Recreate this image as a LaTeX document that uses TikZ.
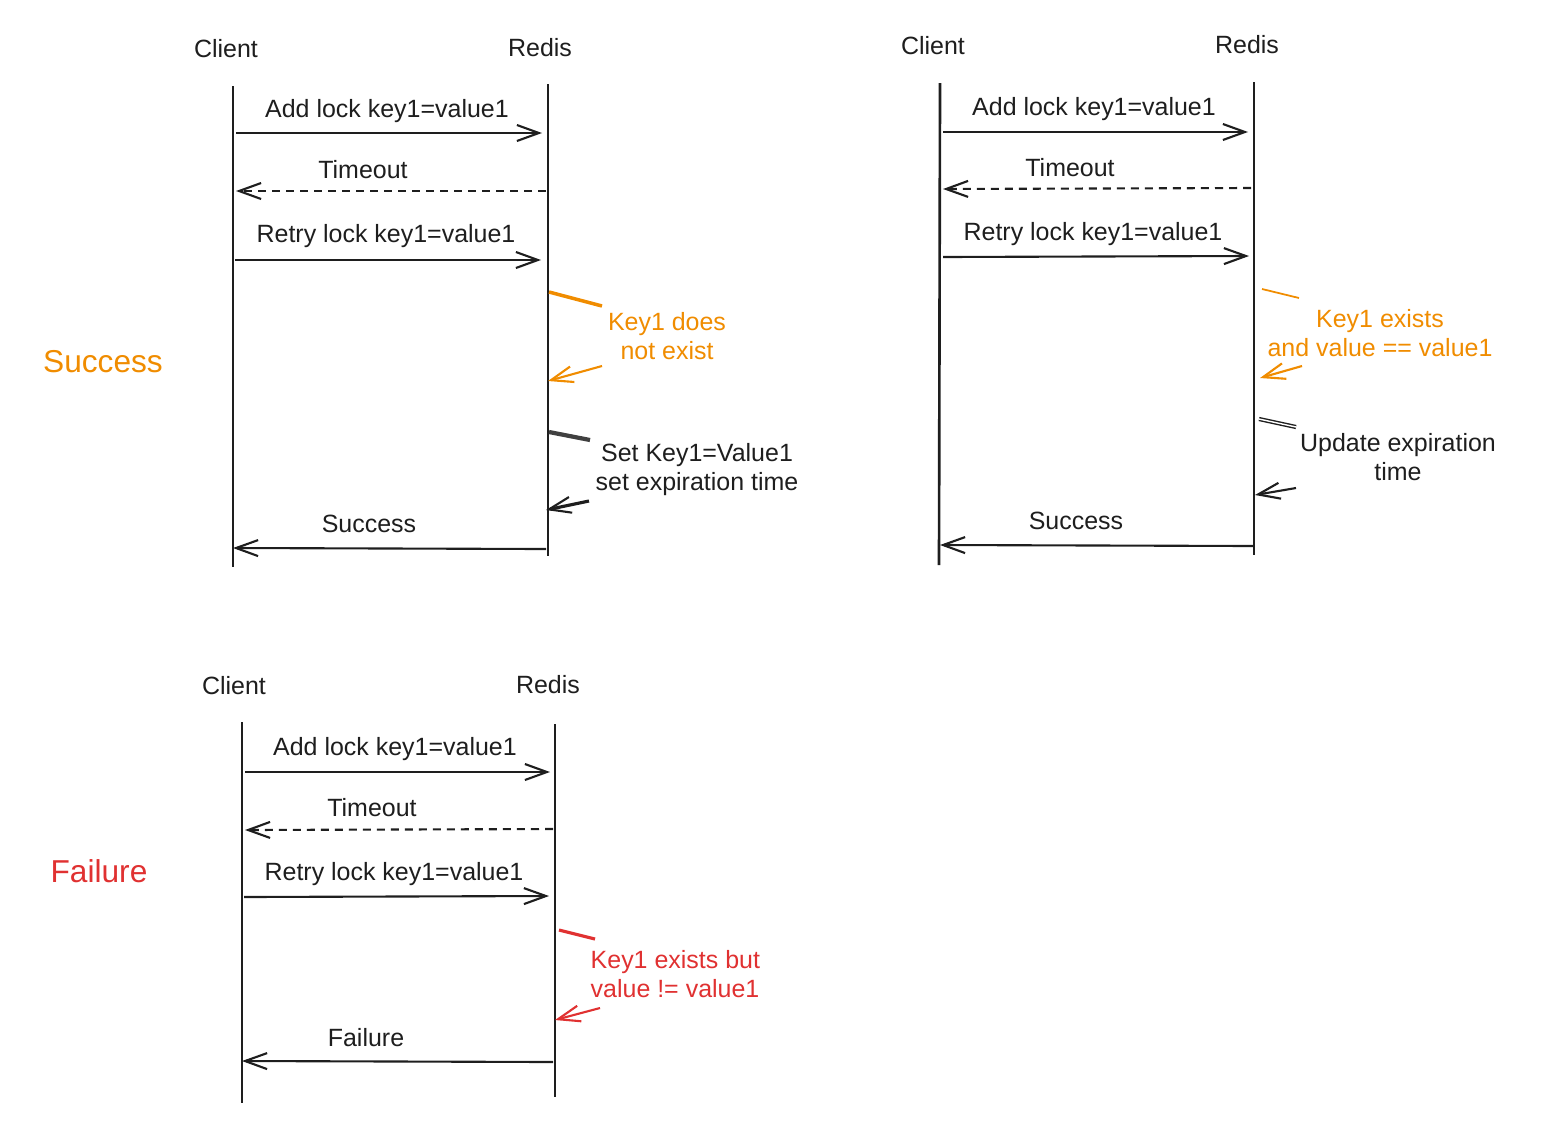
\documentclass[tikz,border=0pt]{standalone}
\usepackage{fontspec}
\setmainfont{Liberation Sans}
\usetikzlibrary{arrows.meta}
\definecolor{ink}{HTML}{1E1E1E}
\definecolor{orng}{HTML}{F08C00}
\definecolor{rd}{HTML}{E03131}
\tikzset{
  lbl/.style={font=\fontsize{7.1}{8.25}\selectfont, text=ink, inner sep=0pt, align=center},
  big/.style={font=\fontsize{9}{11}\selectfont, inner sep=0pt},
  life/.style={draw=ink, line width=0.75pt},
  msg/.style={draw=ink, line width=0.6pt, -{Straight Barb[length=2.2mm,width=1.6mm,line width=0.6pt]}},
  dmsg/.style={msg, dash pattern=on 0.8mm off 0.6mm},
  stub/.style={line width=0.75pt},
  self/.style={line width=0.6pt, -{Straight Barb[length=2.2mm,width=1.6mm,line width=0.6pt]}}
}
\begin{document}
\begin{tikzpicture}[x=0.01cm,y=-0.01cm]
\useasboundingbox (0,0) rectangle (1561,1142);
% ---------- Diagram 1 ----------
\node[lbl] (c1) at (226,49) {Client};
\node[lbl] (r1) at (540,48) {Redis};
\coordinate (c1t) at (233,86); \coordinate (c1b) at (233,567);
\coordinate (r1t) at (548,84); \coordinate (r1b) at (548,556);
\draw[life] (c1t) -- (c1b);
\draw[life] (r1t) -- (r1b);
\coordinate (a1s) at (236,133); \coordinate (a1e) at (542,133);
\draw[msg] (a1s) -- (a1e);
\node[lbl] (l1a) at (387,111) {Add lock key1=value1};
\coordinate (t1s) at (546,191); \coordinate (t1e) at (236,191);
\draw[dmsg] (t1s) -- (t1e);
\node[lbl] (l1b) at (363,170) {Timeout};
\coordinate (q1s) at (235,260); \coordinate (q1e) at (541,260);
\draw[msg] (q1s) -- (q1e);
\node[lbl] (l1c) at (386,236) {Retry lock key1=value1};
\coordinate (o1a) at (549,292); \coordinate (o1b) at (602,306);
\draw[stub, draw=orng, line width=1pt] (o1a) -- (o1b);
\node[lbl, text=orng] (k1) at (667,336) {Key1 does\\not exist};
\coordinate (o1c) at (602,366); \coordinate (o1d) at (548,381);
\draw[self, draw=orng] (o1c) -- (o1d);
\coordinate (s1a) at (549,432); \coordinate (s1b) at (590,440);
\draw[stub, draw=ink!85, line width=1.2pt] (s1a) -- (s1b);
\node[lbl] (k2) at (697,470) {Set Key1=Value1\\set expiration time};
\coordinate (s1c) at (589,501); \coordinate (s1d) at (546,510);
\draw[self, draw=ink, line width=0.9pt] (s1c) -- (s1d);
\coordinate (u1s) at (546,549); \coordinate (u1e) at (233,548);
\draw[msg] (u1s) -- (u1e);
\node[lbl] (l1d) at (369,524) {Success};
\node[big, text=orng] (succ) at (103,362) {Success};
% ---------- Diagram 2 ----------
\node[lbl] (c2) at (933,46) {Client};
\node[lbl] (r2) at (1247,45) {Redis};
\coordinate (c2t) at (940,83); \coordinate (c2b) at (939,565);
\coordinate (r2t) at (1254,82); \coordinate (r2b) at (1254,555);
\draw[life] (c2t) -- (c2b);
\draw[life] (r2t) -- (r2b);
\coordinate (a2s) at (943,132); \coordinate (a2e) at (1248,132);
\draw[msg] (a2s) -- (a2e);
\node[lbl] (l2a) at (1094,109) {Add lock key1=value1};
\coordinate (t2s) at (1251,188); \coordinate (t2e) at (943,189);
\draw[dmsg] (t2s) -- (t2e);
\node[lbl] (l2b) at (1070,168) {Timeout};
\coordinate (q2s) at (943,257); \coordinate (q2e) at (1249,256);
\draw[msg] (q2s) -- (q2e);
\node[lbl] (l2c) at (1093,234) {Retry lock key1=value1};
\coordinate (o2a) at (1262,289); \coordinate (o2b) at (1299,298);
\draw[stub, draw=orng, line width=0.5pt] (o2a) -- (o2b);
\node[lbl, text=orng] (k3) at (1380,333) {Key1 exists\\and value == value1};
\coordinate (o2c) at (1302,366); \coordinate (o2d) at (1260,378);
\draw[self, draw=orng] (o2c) -- (o2d);
\coordinate (s2a) at (1259,419); \coordinate (s2b) at (1296,427);
\draw[stub, draw=ink, double, double distance=0.4pt, line width=0.4pt] (s2a) -- (s2b);
\node[lbl] (k4) at (1398,457) {Update expiration\\time};
\coordinate (s2c) at (1296,488); \coordinate (s2d) at (1255,495);
\draw[self, draw=ink] (s2c) -- (s2d);
\coordinate (u2s) at (1254,546); \coordinate (u2e) at (940,545);
\draw[msg] (u2s) -- (u2e);
\node[lbl] (l2d) at (1076,521) {Success};
% ---------- Diagram 3 ----------
\node[lbl] (c3) at (234,686) {Client};
\node[lbl] (r3) at (548,685) {Redis};
\coordinate (c3t) at (242,722); \coordinate (c3b) at (242,1103);
\coordinate (r3t) at (555,724); \coordinate (r3b) at (555,1097);
\draw[life] (c3t) -- (c3b);
\draw[life] (r3t) -- (r3b);
\coordinate (a3s) at (245,772); \coordinate (a3e) at (550,772);
\draw[msg] (a3s) -- (a3e);
\node[lbl] (l3a) at (395,749) {Add lock key1=value1};
\coordinate (t3s) at (553,829); \coordinate (t3e) at (245,830);
\draw[dmsg] (t3s) -- (t3e);
\node[lbl] (l3b) at (372,808) {Timeout};
\coordinate (q3s) at (244,897); \coordinate (q3e) at (549,896);
\draw[msg] (q3s) -- (q3e);
\node[lbl] (l3c) at (394,874) {Retry lock key1=value1};
\coordinate (o3a) at (559,930); \coordinate (o3b) at (595,939);
\draw[stub, draw=rd, line width=0.9pt] (o3a) -- (o3b);
\node[lbl, text=rd, align=left, anchor=west] (k5) at (590,974) {Key1 exists but\\value != value1};
\coordinate (o3c) at (600,1008); \coordinate (o3d) at (555,1020);
\draw[self, draw=rd] (o3c) -- (o3d);
\coordinate (u3s) at (553,1062); \coordinate (u3e) at (242,1061);
\draw[msg] (u3s) -- (u3e);
\node[lbl] (l3d) at (366,1038) {Failure};
\node[big, text=rd] (fail) at (99,871) {Failure};
\end{tikzpicture}
\end{document}
